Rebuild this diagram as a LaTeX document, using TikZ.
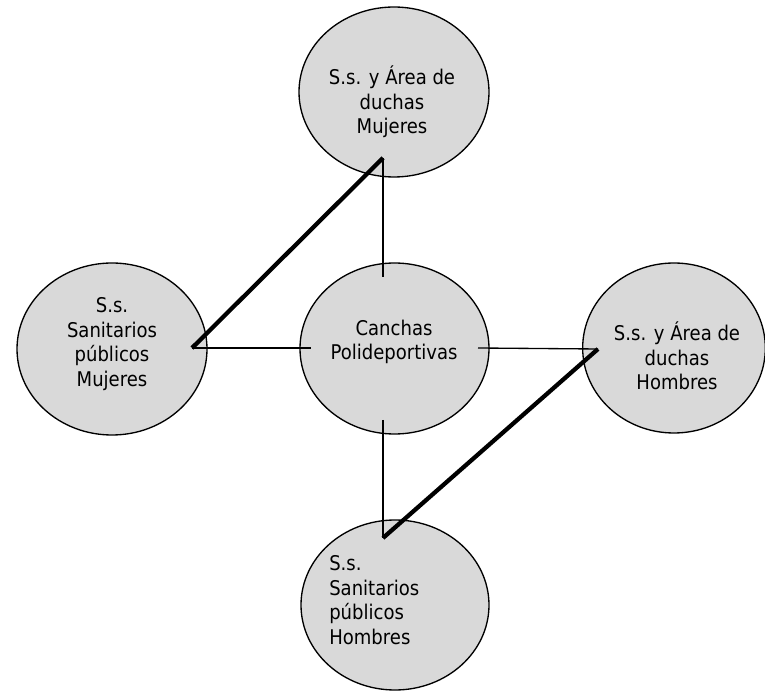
\documentclass[tikz,border=0pt]{standalone}
\usepackage{fontspec}
\setmainfont{DejaVu Sans}[FakeStretch=0.89]
\usetikzlibrary{shapes.geometric}
\definecolor{bubblefill}{RGB}{217,217,217}
\begin{document}
\begin{tikzpicture}[x=0.75pt,y=-0.75pt,
  bubble/.style={draw=black,line width=1pt,fill=bubblefill,ellipse,inner sep=0pt,
    minimum width=#1},
  thinlink/.style={draw=black,line width=1pt},
  thicklink/.style={draw=black,line width=3.2pt},
  lbl/.style={font=\fontsize{15.2}{18.4}\selectfont,align=center,inner sep=0pt}]
\useasboundingbox (0,0) rectangle (765,691);
% ellipses
\node[bubble=142.5pt,minimum height=127.5pt] (top) at (394,92) {};
\node[bubble=142.5pt,minimum height=129pt] (left) at (112,349) {};
\node[bubble=141.75pt,minimum height=128.25pt] (center) at (394.5,348.5) {};
\node[bubble=137pt,minimum height=127.5pt] (right) at (674,348) {};
\node[bubble=141pt,minimum height=127.5pt] (bottom) at (395,605) {};
% connector points
\coordinate (pT) at (383,158);
\coordinate (pL) at (192,348);
\coordinate (pR) at (598,349);
\coordinate (pB) at (383,538);
\coordinate (cT) at (383,277);
\coordinate (cL) at (311,348);
\coordinate (cR) at (478,348);
\coordinate (cB) at (383,420);
% thin connectors
\draw[thinlink] (pT) -- (cT);
\draw[thinlink] (pL) -- (cL);
\draw[thinlink] (cR) -- (pR);
\draw[thinlink] (cB) -- (pB);
% thick connectors
\draw[thicklink] (pT) -- (pL);
\draw[thicklink] (pR) -- (pB);
% labels
\node[lbl] (ttop) at (392,102) {S.s. y Área de\\duchas\\Mujeres};
\node[lbl] (tleft) at (112,344) {S.s.\\Sanitarios\\públicos\\Mujeres};
\node[lbl] (tcenter) at (394,342) {Canchas\\Polideportivas};
\node[lbl] (tright) at (677,356) {S.s. y Área de\\duchas\\Hombres};
\node[lbl,align=left,anchor=west] (tbottom) at (329,600) {S.s.\\Sanitarios\\públicos\\Hombres};
\end{tikzpicture}
\end{document}
